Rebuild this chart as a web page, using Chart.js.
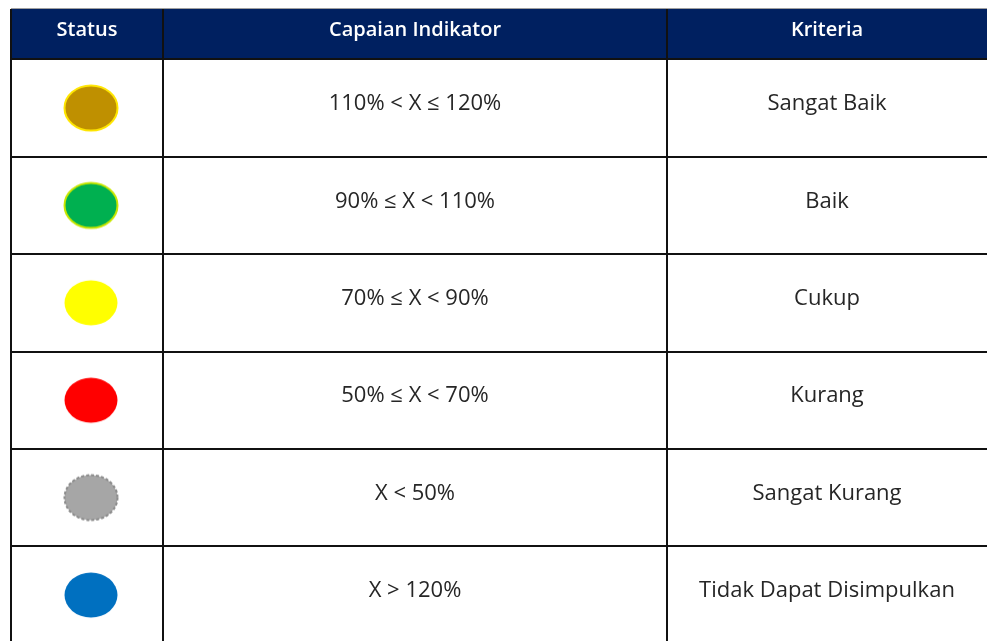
<!DOCTYPE html>
<html>
<head>
<meta charset="utf-8">
<script src="https://cdn.jsdelivr.net/npm/chart.js@4.4.1/dist/chart.umd.min.js"></script>
<style>
  html, body { margin: 0; padding: 0; background: #fff; }
  canvas { display: block; }
</style>
</head>
<body>
<canvas id="kriteriaTable" width="987" height="641"></canvas>
<script>
const headers = ["Status", "Capaian Indikator", "Kriteria"];
const statusColors = ["#BF9000", "#00B050", "#FFFF00", "#FF0000", "#A6A6A6", "#0070C0"];
const statusBorders = ["#FFE600", "#C8E600", null, null, "#8C8C8C", null];
const statusDashed = [false, false, false, false, true, false];
const capaian = ["110% < X ≤ 120%", "90% ≤ X < 110%", "70% ≤ X < 90%", "50% ≤ X < 70%", "X < 50%", "X > 120%"];
const kriteria = ["Sangat Baik", "Baik", "Cukup", "Kurang", "Sangat Kurang", "Tidak Dapat Disimpulkan"];
const rowIndex = kriteria.map((_, i) => i);

// column edges in x units, canvas is 987 wide
const colEdges = [11, 163, 667, 987];
const colMid = (c) => (colEdges[c] + colEdges[c + 1]) / 2;

// status marks are ellipses, not circles
function ellipse(fill, stroke, dashed) {
  const c = document.createElement("canvas");
  c.width = 58;
  c.height = 50;
  const g = c.getContext("2d");
  g.beginPath();
  g.ellipse(29, 25, 26.5, 22.5, 0, 0, Math.PI * 2);
  g.fillStyle = fill;
  g.fill();
  if (stroke) {
    g.lineWidth = 2;
    g.strokeStyle = stroke;
    if (dashed) g.setLineDash([3, 2]);
    g.stroke();
  }
  return c;
}

const tablePlugin = {
  id: "tablePlugin",
  beforeDatasetsDraw(chart) {
    const { ctx, scales: { x, y } } = chart;
    const left = x.getPixelForValue(colEdges[0]);
    const right = x.getPixelForValue(colEdges[3]);
    const hTop = Math.round(y.getPixelForValue(-1.015));
    const hBot = Math.round(y.getPixelForValue(-0.5));
    const bottom = chart.height;
    ctx.save();

    // header band
    ctx.fillStyle = "#002060";
    ctx.fillRect(left, hTop, right - left, hBot - hTop);
    ctx.strokeStyle = "#A0A0A0";
    ctx.lineWidth = 1;
    ctx.beginPath();
    ctx.moveTo(left, hTop - 0.5);
    ctx.lineTo(right, hTop - 0.5);
    ctx.stroke();

    // row lines (no closing line, the table runs past the bottom)
    ctx.strokeStyle = "#111";
    ctx.lineWidth = 2;
    ctx.beginPath();
    for (let i = -0.5; i < rowIndex.length - 1; i++) {
      const py = Math.round(y.getPixelForValue(i));
      ctx.moveTo(left, py);
      ctx.lineTo(right, py);
    }
    colEdges.slice(0, 3).forEach((e) => {
      const px = Math.round(x.getPixelForValue(e));
      ctx.moveTo(px, hTop);
      ctx.lineTo(px, bottom);
    });
    ctx.stroke();

    // texts
    ctx.textAlign = "center";
    ctx.textBaseline = "middle";
    ctx.font = "600 20px 'Open Sans'";
    ctx.fillStyle = "#ffffff";
    headers.forEach((h, c) => {
      ctx.fillText(h, x.getPixelForValue(colMid(c)), (hTop + hBot) / 2 - 4);
    });
    ctx.font = "22px 'Open Sans'";
    ctx.fillStyle = "#262626";
    rowIndex.forEach((i) => {
      const py = y.getPixelForValue(i) - 4;
      ctx.fillText(capaian[i], x.getPixelForValue(colMid(1)), py);
      ctx.fillText(kriteria[i], x.getPixelForValue(colMid(2)), py);
    });
    ctx.restore();
  },
};

const ctx = document.getElementById("kriteriaTable").getContext("2d");
new Chart(ctx, {
  type: "scatter",
  data: {
    datasets: [
      {
        label: "Status",
        data: rowIndex.map((i) => ({ x: colMid(0) + 4, y: i })),
        pointStyle: statusColors.map((c, i) => ellipse(c, statusBorders[i], statusDashed[i])),
      },
    ],
  },
  options: {
    responsive: false,
    animation: false,
    events: [],
    clip: false,
    layout: { padding: 0, autoPadding: false },
    plugins: {
      legend: { display: false },
      tooltip: { enabled: false },
    },
    scales: {
      x: { type: "linear", min: 0, max: 987, display: false },
      y: { type: "linear", min: -1.109, max: 5.472, reverse: true, display: false },
    },
  },
  plugins: [tablePlugin],
});
</script>
</body>
</html>
